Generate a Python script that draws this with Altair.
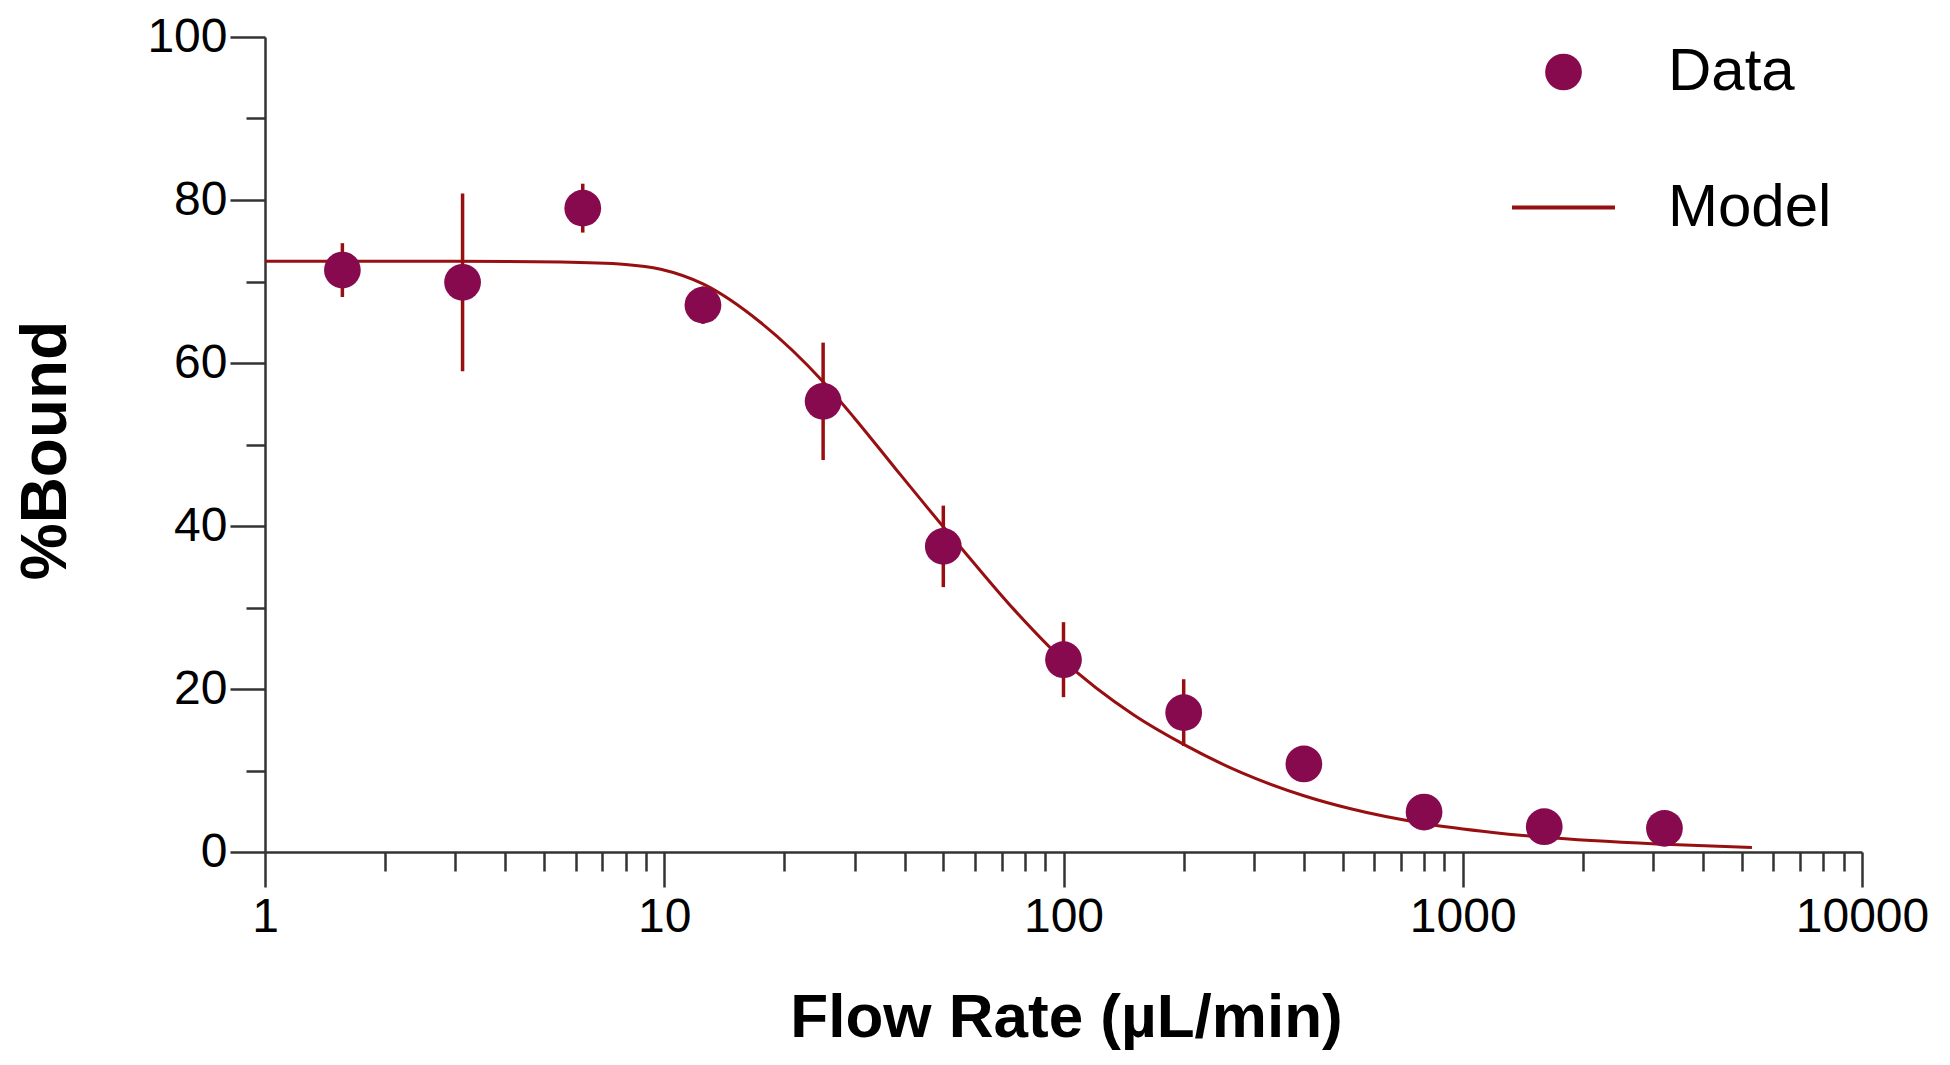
import altair as alt
import pandas as pd

# ---- data ----
flow = [1.5625, 3.125, 6.25, 12.5, 25, 50, 100, 200, 400, 800, 1600, 3200]
bound = [71.4, 69.9, 79.0, 67.1, 55.3, 37.5, 23.6, 17.1, 10.8, 4.9, 3.1, 2.9]
err = [3.3, 10.9, 3.0, 2.3, 7.2, 5.0, 4.6, 4.1, 1.0, 0.8, 0.6, 0.5]

model_x = [1, 2, 3, 5.5, 8, 9.8, 12.5, 17.4, 25, 30, 38, 50, 57, 75, 100,
           150, 200, 280, 400, 524, 800, 1190, 1600, 3200, 5300]
model_y = [72.5, 72.5, 72.5, 72.4, 72.1, 71.5, 69.7, 65.0, 57.7, 53.2, 47.0,
           39.9, 36.6, 29.8, 23.5, 16.8, 13.2, 9.7, 6.9, 5.3, 3.5, 2.4, 1.8,
           0.95, 0.55]

legend_items = ["Data", "Model"]
x_decades = [1, 10, 100, 1000, 10000]
y_ticks = [0, 10, 20, 30, 40, 50, 60, 70, 80, 90, 100]

PURPLE = "#870A4F"
RED = "#980F12"
FONT = "Liberation Sans"

x_ticks = sorted(set([d * m for d in x_decades[:-1] for m in range(1, 10)] + [x_decades[-1]]))

pts = pd.DataFrame({"flow": flow, "bound": bound,
                    "lo": [b - e for b, e in zip(bound, err)],
                    "hi": [b + e for b, e in zip(bound, err)],
                    "series": ["Data"] * len(flow)})
model = pd.DataFrame({"flow": model_x, "bound": model_y})

DEC = "abs(log(datum.value)/LN10 - round(log(datum.value)/LN10)) < 0.001"

xscale = alt.Scale(type="log", domain=[1, 10000], nice=False)
yscale = alt.Scale(domain=[0, 100], nice=False, zero=False)

x_axis = alt.Axis(
    values=x_ticks, title="Flow Rate (µL/min)",
    labelExpr=f"{DEC} ? format(datum.value, 'd') : ''",
    tickSize={"condition": {"test": DEC, "value": 35}, "value": 19},
    labelFont=FONT, labelFontSize=48, labelColor="black", labelPadding=6,
    labelOverlap=False, labelFlush=False, labelBaseline="top",
    tickColor="#333333", tickWidth=2.5, domainColor="#333333", domainWidth=2.5,
    grid=False, titleFont=FONT, titleFontSize=62, titleFontWeight="bold",
    titleColor="black", titleX=801, titleY=184, titleBaseline="alphabetic",
    titleAlign="center", titleAnchor="middle",
)
y_axis = alt.Axis(
    values=y_ticks, title="%Bound",
    labelExpr="datum.value % 20 == 0 ? format(datum.value, 'd') : ''",
    tickSize={"condition": {"test": "datum.value % 20 == 0", "value": 35}, "value": 19},
    labelFont=FONT, labelFontSize=48, labelColor="black", labelPadding=3,
    labelOverlap=False, labelFlush=False,
    tickColor="#333333", tickWidth=2.5, domainColor="#333333", domainWidth=2.5,
    grid=False, titleFont=FONT, titleFontSize=64, titleFontWeight="bold",
    titleColor="black", titleX=-200, titleY=413, titleAngle=270,
    titleBaseline="alphabetic", titleAlign="center", titleAnchor="middle",
)

errbars = alt.Chart(pts).mark_rule(color=RED, strokeWidth=3.5).encode(
    x=alt.X("flow:Q", scale=xscale, axis=x_axis),
    y=alt.Y("lo:Q", scale=yscale, axis=y_axis),
    y2="hi:Q",
)

line = alt.Chart(model).mark_line(color=RED, strokeWidth=3, interpolate="monotone").encode(
    x=alt.X("flow:Q", scale=xscale, axis=x_axis),
    y=alt.Y("bound:Q", scale=yscale, axis=y_axis),
)

leg = alt.Legend(title=None, orient="none", legendX=1245, legendY=5,
                 labelFont=FONT, labelFontSize=60, labelColor="black",
                 labelOffset=51, rowPadding=52, symbolStrokeWidth=4,
                 labelLimit=0, padding=0)

points = alt.Chart(pts).mark_point(filled=True, opacity=1, strokeWidth=4).encode(
    x=alt.X("flow:Q", scale=xscale, axis=x_axis),
    y=alt.Y("bound:Q", scale=yscale, axis=y_axis),
    fill=alt.Fill("series:N", scale=alt.Scale(domain=legend_items, range=[PURPLE, "transparent"]), legend=leg),
    stroke=alt.Stroke("series:N", scale=alt.Scale(domain=legend_items, range=["transparent", RED]), legend=leg),
    shape=alt.Shape("series:N", scale=alt.Scale(domain=legend_items, range=["circle", "stroke"]), legend=leg),
    size=alt.Size("series:N", scale=alt.Scale(domain=legend_items, range=[1350, 10600]), legend=leg),
)

chart = alt.layer(errbars, line, points).properties(
    width=1597, height=815,
    autosize=alt.AutoSizeParams(type="none"),
    padding={"left": 257, "top": 29, "right": 70, "bottom": 200},
    background="white",
).configure_view(stroke=None)

chart.save("out.html", embed_options={"renderer": "svg", "actions": False})
